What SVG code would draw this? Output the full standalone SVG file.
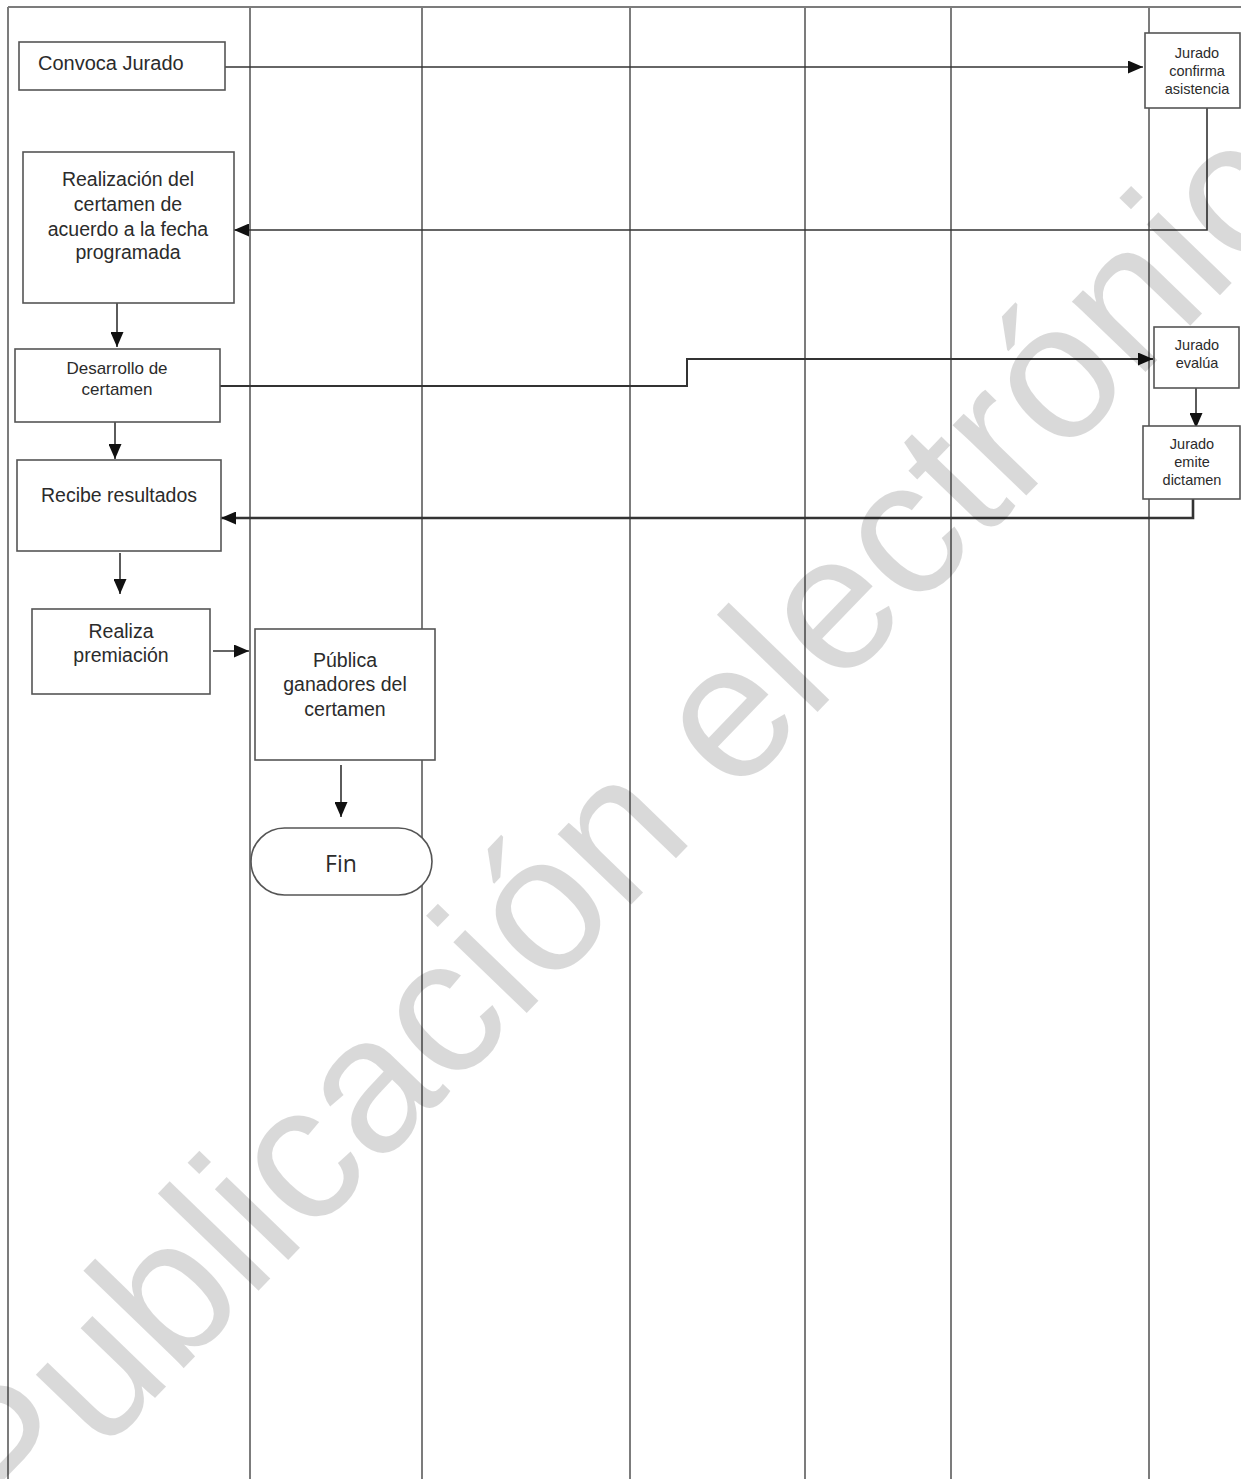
<svg xmlns="http://www.w3.org/2000/svg" width="1241" height="1479" viewBox="0 0 1241 1479">
<style>
.lane{stroke:#7c7c7c;stroke-width:2;fill:none}
.box{fill:#fff;stroke:#555;stroke-width:1.6}
.t{font-family:"Liberation Sans",Arial,sans-serif;fill:#2b2b2b;text-anchor:middle}
.big{font-size:19.5px}
.mid{font-size:17px}
.sm{font-size:14.5px}
.conn{stroke:#333;stroke-width:1.6;fill:none}
.wm{font-family:"Liberation Sans",Arial,sans-serif;font-size:193px;fill:#000;fill-opacity:0.15}
</style>
<defs>
<marker id="ah" markerUnits="userSpaceOnUse" markerWidth="15" markerHeight="13" refX="15" refY="6.5" orient="auto">
<path d="M0,0 L15,6.5 L0,13 z" fill="#111"/>
</marker>
</defs>
<rect width="1241" height="1479" fill="#fff"/>
<g id="lanes">
<line class="lane" x1="8" y1="7" x2="1241" y2="7"/>
<line class="lane" x1="8" y1="7" x2="8" y2="1479"/>
<line class="lane" x1="250" y1="7" x2="250" y2="1479"/>
<line class="lane" x1="422" y1="7" x2="422" y2="1479"/>
<line class="lane" x1="630" y1="7" x2="630" y2="1479"/>
<line class="lane" x1="805" y1="7" x2="805" y2="1479"/>
<line class="lane" x1="951" y1="7" x2="951" y2="1479"/>
<line class="lane" x1="1149" y1="7" x2="1149" y2="1479"/>
</g>
<g id="connectors">
<line class="conn" x1="225" y1="67" x2="1143" y2="67" marker-end="url(#ah)"/>
<polyline class="conn" points="1207,108 1207,230 234,230" marker-end="url(#ah)"/>
<line class="conn" x1="117" y1="303" x2="117" y2="347" marker-end="url(#ah)"/>
<polyline class="conn" style="stroke-width:2" points="220,386 687,386 687,359 1153,359" marker-end="url(#ah)"/>
<line class="conn" x1="1196" y1="388" x2="1196" y2="428" marker-end="url(#ah)"/>
<polyline class="conn" style="stroke-width:2.6" points="1193,499 1193,518 221,518" marker-end="url(#ah)"/>
<line class="conn" x1="115" y1="422" x2="115" y2="459" marker-end="url(#ah)"/>
<line class="conn" x1="120" y1="553" x2="120" y2="594" marker-end="url(#ah)"/>
<line class="conn" x1="213" y1="651" x2="249" y2="651" marker-end="url(#ah)"/>
<line class="conn" x1="341" y1="765" x2="341" y2="817" marker-end="url(#ah)"/>
</g>
<g id="n_convoca">
<rect class="box" x="19" y="42" width="206" height="48"/>
<text class="t" x="38" y="70" style="text-anchor:start;font-size:20px">Convoca Jurado</text>
</g>
<g id="n_confirma">
<rect class="box" x="1145" y="33" width="95" height="75"/>
<text class="t sm" x="1197" y="58">Jurado</text>
<text class="t sm" x="1197" y="76">confirma</text>
<text class="t sm" x="1197" y="94">asistencia</text>
</g>
<g id="n_realizacion">
<rect class="box" x="23" y="152" width="211" height="151"/>
<text class="t big" x="128" y="186">Realización del</text>
<text class="t big" x="128" y="211">certamen de</text>
<text class="t big" x="128" y="235.5">acuerdo a la fecha</text>
<text class="t big" x="128" y="259">programada</text>
</g>
<g id="n_desarrollo">
<rect class="box" x="15" y="349" width="205" height="73"/>
<text class="t mid" x="117" y="374">Desarrollo de</text>
<text class="t mid" x="117" y="395">certamen</text>
</g>
<g id="n_evalua">
<rect class="box" x="1154" y="327" width="85" height="61"/>
<text class="t sm" x="1197" y="350">Jurado</text>
<text class="t sm" x="1197" y="368">evalúa</text>
</g>
<g id="n_dictamen">
<rect class="box" x="1143" y="426" width="97" height="73"/>
<text class="t sm" x="1192" y="449">Jurado</text>
<text class="t sm" x="1192" y="467">emite</text>
<text class="t sm" x="1192" y="485">dictamen</text>
</g>
<g id="n_recibe">
<rect class="box" x="17" y="460" width="204" height="91"/>
<text class="t big" x="119" y="502">Recibe resultados</text>
</g>
<g id="n_premiacion">
<rect class="box" x="32" y="609" width="178" height="85"/>
<text class="t big" x="121" y="638">Realiza</text>
<text class="t big" x="121" y="662">premiación</text>
</g>
<g id="n_publica">
<rect class="box" x="255" y="629" width="180" height="131"/>
<text class="t big" x="345" y="667">Pública</text>
<text class="t big" x="345" y="691">ganadores del</text>
<text class="t big" x="345" y="716">certamen</text>
</g>
<g id="n_fin">
<rect class="box" x="251" y="828" width="181" height="67" rx="33.5" ry="33.5"/>
<text class="t" x="341" y="872" style="font-family:'Open Sans',sans-serif;font-size:23px">Fin</text>
</g>
<g id="watermark">
<text class="wm" transform="translate(11,1547) rotate(-46)">Publicación electrónica</text>
</g>
</svg>
